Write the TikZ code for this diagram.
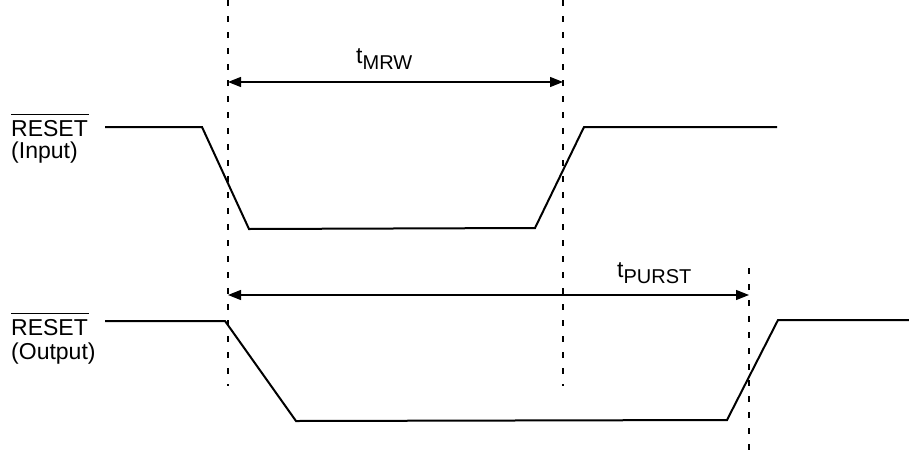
\documentclass[tikz,border=0pt]{standalone}
\usepackage{fontspec}
\setmainfont{Liberation Sans}
\usetikzlibrary{arrows.meta}
\begin{document}
\begin{tikzpicture}[x=1pt,y=-1pt,
  wave/.style={line width=2pt, line join=miter},
  guide/.style={line width=1.8pt, dash pattern=on 6pt off 10pt},
  dimline/.style={line width=1.2pt, {Triangle[length=13pt,width=10pt]}-{Triangle[length=13pt,width=10pt]}},
  lbl/.style={font=\fontsize{23}{23}\selectfont, inner sep=0pt},
  bar/.style={line width=1.2pt}]
\useasboundingbox (0,0) rectangle (909,458);

% guide lines
\coordinate (g1t) at (228,0);   \coordinate (g1b) at (228,386);
\coordinate (g2t) at (563,0);   \coordinate (g2b) at (563,386);
\coordinate (g3t) at (749,268); \coordinate (g3b) at (749,458);
\draw[guide] (g1t) -- (g1b);
\draw[guide] (g2t) -- (g2b);
\draw[guide] (g3t) -- (g3b);

% input waveform
\draw[wave] (105,127) -- (202,127) -- (249,229) -- (535,228) -- (584,127) -- (777,127);
% output waveform
\draw[wave] (105,321) -- (225,321) -- (296,421) -- (727,420) -- (778,320) -- (909,320);

% labels
\node[lbl, anchor=base west] (inname) at (11,136) {RESET};
\draw[bar] ([yshift=5pt]inname.north west) -- ([yshift=5pt,xshift=1pt]inname.north east);
\node[lbl, anchor=base west] (indir) at (11,158) {(Input)};
\node[lbl, anchor=base west] (outname) at (11,335) {RESET};
\draw[bar] ([yshift=5pt]outname.north west) -- ([yshift=5pt,xshift=1pt]outname.north east);
\node[lbl, anchor=base west] (outdir) at (11,359) {(Output)};

% dimension arrows
\coordinate (m1) at (228,82); \coordinate (m2) at (563,82);
\draw[dimline] (m1) -- (m2);
\node[lbl, anchor=base west] (tmrw) at (356,63) {t\raisebox{-6pt}{\fontsize{20}{20}\selectfont MRW}};

\coordinate (p1) at (228,295); \coordinate (p2) at (749,295);
\draw[dimline] (p1) -- (p2);
\node[lbl, anchor=base west] (tpurst) at (617,277) {t\raisebox{-6pt}{\fontsize{20}{20}\selectfont PURST}};
\end{tikzpicture}
\end{document}
